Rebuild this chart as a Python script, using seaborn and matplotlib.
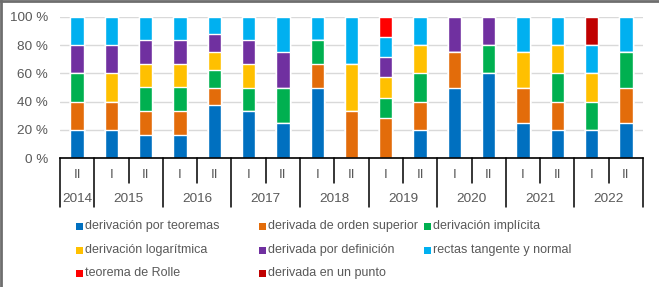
import numpy as np
import pandas as pd
import matplotlib
matplotlib.use("Agg")
import matplotlib.pyplot as plt
from matplotlib.patches import Rectangle
from matplotlib.lines import Line2D
import seaborn as sns

# periodos (año, semestre)
anios = ["2014", "2015", "2015", "2016", "2016", "2017", "2017", "2018", "2018",
         "2019", "2019", "2020", "2020", "2021", "2021", "2022", "2022"]
semestres = ["II", "I", "II", "I", "II", "I", "II", "I", "II",
             "I", "II", "I", "II", "I", "II", "I", "II"]

temas = ["derivación por teoremas", "derivada de orden superior", "derivación implícita",
         "derivación logarítmica", "derivada por definición", "rectas tangente y normal",
         "teorema de Rolle", "derivada en un punto"]
colores = ["#0070C0", "#E36C0A", "#00B050", "#FFC000", "#7030A0", "#00B0F0",
           "#FF0000", "#C00000"]

# porcentajes por tema
teoremas     = [20, 20, 16.7, 16.7, 37.5, 33.3, 25, 50, 0, 0, 20, 50, 60, 25, 20, 20, 25]
orden_sup    = [20, 20, 16.7, 16.7, 12.5, 0, 0, 16.7, 33.3, 28.6, 20, 25, 0, 25, 20, 0, 25]
implicita    = [20, 0, 16.7, 16.7, 12.5, 16.7, 25, 16.7, 0, 14.3, 20, 0, 20, 0, 20, 20, 25]
logaritmica  = [0, 20, 16.7, 16.7, 12.5, 16.7, 0, 0, 33.3, 14.3, 20, 0, 0, 25, 20, 20, 0]
definicion   = [20, 20, 16.6, 16.6, 12.5, 16.6, 25, 0, 0, 14.3, 0, 25, 20, 0, 0, 0, 0]
rectas       = [20, 20, 16.6, 16.6, 12.5, 16.7, 25, 16.6, 33.4, 14.3, 20, 0, 0, 25, 20, 20, 25]
rolle        = [0, 0, 0, 0, 0, 0, 0, 0, 0, 14.2, 0, 0, 0, 0, 0, 0, 0]
en_un_punto  = [0, 0, 0, 0, 0, 0, 0, 0, 0, 0, 0, 0, 0, 0, 0, 20, 0]

series = [teoremas, orden_sup, implicita, logaritmica, definicion, rectas, rolle, en_un_punto]

periodos = [f"{a} {s}" for a, s in zip(anios, semestres)]
df = pd.DataFrame({t: v for t, v in zip(temas, series)})
acum = df[temas].cumsum(axis=1)
acum["periodo"] = periodos

sns.set_style("white")
plt.rcParams["font.family"] = ["Liberation Sans", "DejaVu Sans"]
gris = "#595959"
fs = 9.7

fig = plt.figure(figsize=(6.59, 2.87), dpi=100)
ax = fig.add_axes([60 / 659, 1 - 158.3 / 287, 583 / 659, 141.6 / 287])

# barras apiladas: se dibuja el acumulado desde arriba hacia abajo
for tema, color in reversed(list(zip(temas, colores))):
    sns.barplot(data=acum, x="periodo", y=tema, order=periodos, color=color,
                width=0.39, saturation=1, ax=ax, zorder=3)

ax.set_xlim(-0.5, len(periodos) - 0.5)
ax.set_ylim(0, 100)
ax.set_yticks(range(0, 101, 20))
ax.set_yticklabels([f"{v} %" for v in range(0, 101, 20)], color=gris, fontsize=fs)
ax.tick_params(axis="y", length=0, pad=8.6)
ax.set_xticks([])
ax.set_xlabel("")
ax.set_ylabel("")
ax.grid(axis="y", color="#D9D9D9", lw=1, zorder=0)
for s in ["top", "right", "left"]:
    ax.spines[s].set_visible(False)
ax.spines["bottom"].set_color("black")
ax.spines["bottom"].set_linewidth(1.2)
ax.spines["bottom"].set_zorder(5)

# eje de categorias en dos niveles
trans = ax.get_xaxis_transform()
n = len(periodos)
for i in range(n + 1):
    x = i - 0.5
    limite_anio = i == 0 or i == n or anios[i] != anios[i - 1]
    y_fin = -0.344 if limite_anio else -0.174
    ax.add_line(Line2D([x, x], [0, y_fin], transform=trans, color="black",
                       lw=1.1, clip_on=False))
for i, s in enumerate(semestres):
    ax.text(i, -0.117, s, transform=trans, ha="center", va="center",
            fontsize=fs, color=gris)
for a in dict.fromkeys(anios):
    idx = [i for i, v in enumerate(anios) if v == a]
    ax.text(np.mean(idx), -0.29, a, transform=trans, ha="center", va="center",
            fontsize=fs, color=gris)

# leyenda en 3 columnas, ordenada por filas como en el original
col_x = [76, 259, 424]
fila_y = [226, 250, 273]
W, H = 659, 287
for k, (tema, color) in enumerate(zip(temas, colores)):
    cx = col_x[k % 3]
    cy = fila_y[k // 3]
    fig.add_artist(Rectangle((cx / W, 1 - (cy + 3.5) / H), 7 / W, 7 / H,
                             transform=fig.transFigure, facecolor=color,
                             edgecolor="none"))
    fig.text((cx + 9) / W, 1 - cy / H, tema, ha="left", va="center",
             fontsize=9, color=gris)

# borde del grafico (solo arriba e izquierda visibles)
fig.add_artist(Line2D([0, 1], [0.997, 0.997], transform=fig.transFigure,
                      color="#6E6E6E", lw=2))
fig.add_artist(Line2D([0.0015, 0.0015], [0, 1], transform=fig.transFigure,
                      color="#6E6E6E", lw=2))

fig.savefig("out.png", dpi=100)
